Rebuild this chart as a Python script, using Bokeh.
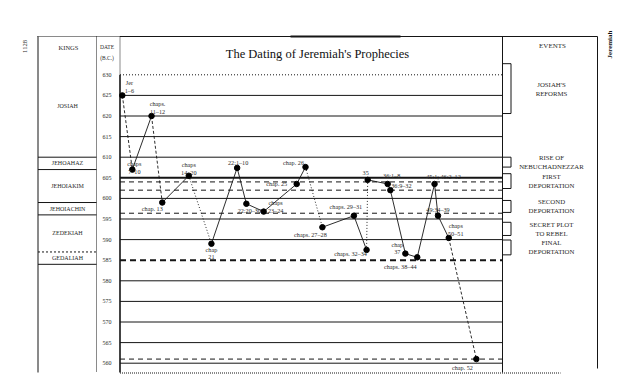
import math
from bokeh.plotting import figure
from bokeh.models import Range1d, ColumnDataSource
from bokeh.core.properties import value
from bokeh.embed import file_html
from bokeh.resources import INLINE

# ---------------- data ----------------
title = "The Dating of Jeremiah's Prophecies"
year_ticks = [630, 625, 620, 615, 610, 605, 600, 595, 590, 585, 580, 575, 570, 565, 560]

prophecy_labels = ["Jer\n1–6", "chaps\n7–10", "chaps.\n11–12", "chap. 13", "chaps\n14–20",
                   "chap\n21", "22:1–10", "22:20–30", "chaps\n23–24", "chap. 25", "chap. 26",
                   "chaps. 27–28", "chaps. 29–31", "chaps. 32–34", "35", "36:1–8", "36:9–32",
                   "chap\n37", "chaps. 38–44", "45:1; 46:2–12", "49:34–39", "chaps\n50–51", "chap. 52"]
# position along the (unlabelled) sequence axis, 0-100 across the chart area
prophecy_pos = [1.0, 3.6, 8.6, 11.4, 18.3, 24.2, 30.9, 33.3, 37.8, 46.4, 48.7, 53.1, 61.3,
                64.6, 64.9, 70.1, 70.8, 74.7, 77.8, 82.3, 83.2, 86.0, 93.2]
prophecy_year = [625, 607, 620, 599, 605.5, 589, 607.4, 598.7, 596.8, 603.5, 607.6, 593, 595.8,
                 587.5, 604.5, 603.5, 602, 586.6, 585.7, 603.5, 595.8, 590.4, 561]

kings = ["JOSIAH", "JEHOAHAZ", "JEHOIAKIM", "JEHOIACHIN", "ZEDEKIAH", "GEDALIAH"]
king_from = [635, 610, 607, 599, 596, 587]
king_to = [610, 607, 599, 596, 587, 584]

events = ["JOSIAH'S\nREFORMS", "RISE OF\nNEBUCHADNEZZAR", "FIRST\nDEPORTATION",
          "SECOND\nDEPORTATION", "SECRET PLOT\nTO REBEL", "FINAL\nDEPORTATION"]
event_from = [632.7, 610, 606, 599.5, 594.2, 589.9]
event_to = [620.6, 607.6, 602.4, 596.6, 591, 586.3]

dashed_marker_years = [604, 602, 596.4, 561]

# ---------------- layout / style ----------------
SERIF = value("Liberation Serif")
INK = "#151515"
TXT = "#2a2a2a"

def X(px):  # page pixel -> sequence units
    return (px - 118) / 3.84

def Y(py):  # page pixel -> year
    return 630 - (py - 74.3) / 4.12

seg_dash = ["3 2", "solid", "3 2", "solid", "1 2", "solid", "solid", "solid", "solid", "solid",
            "1 2", "solid", "solid", "1 2", "solid", "solid", "solid", "solid", "solid",
            "solid", "solid", "3 2"]
label_dx = [7, 2, 6, -10, 0, 0, 1, 3, 12, -20, -12, -12, -8, -16, -2, 4, 11, -8, -17, 9, 0, 7, -14]
label_dy = [-12.5, -6.5, -13, 6, -11.5, 5.5, -5.5, 6.5, -9, 0, -4.5, 7, -9, 4, -7, -8, -5,
            -9.5, 9, -7.5, -6, -12, 8]
LINE_GAP = 8

p = figure(width=623, height=374, x_range=Range1d(X(0), X(623)),
           y_range=Range1d(Y(374), Y(0)), x_axis_type=None, y_axis_type=None,
           output_backend="svg", toolbar_location=None, min_border=0)
p.grid.visible = False
p.outline_line_color = None
p.background_fill_color = "white"
p.border_fill_color = "white"

def seg(x0, y0, x1, y1, w=1.0, dash="solid", color=INK):
    p.segment(x0=[x0], y0=[y0], x1=[x1], y1=[y1], line_color=color, line_width=w, line_dash=dash)

# frame lines
seg(X(37), Y(36), X(119.5), Y(36), 1, "1 1")
seg(X(119.5), Y(36), X(597), Y(36), 1)
seg(X(290), Y(36), X(400), Y(36), 2)
seg(X(37.5), Y(36), X(37.5), Y(372), 1)
seg(X(96), Y(36), X(96), Y(372), 1, "1 1")
seg(X(119.5), Y(36), X(119.5), Y(74.3), 1, "1 1")
seg(X(119.5), Y(74.3), X(119.5), Y(372), 1.6)
seg(X(502), Y(36), X(502), Y(372), 1)
seg(X(597), Y(36), X(597), Y(368), 1)
seg(X(119.5), Y(372.5), X(560), Y(372.5), 1, "1 1")

# year grid lines in chart area
cx0, cx1 = X(119.5), X(502)
for yv in year_ticks:
    if yv == 630:
        seg(cx0, yv, cx1, yv, 1, "1 2")
    elif yv == 605:
        seg(cx0, yv, cx1, yv, 2)
    elif yv == 585:
        seg(cx0, yv, cx1, yv, 2, "6 4")
    else:
        seg(cx0, yv, cx1, yv, 1)
for yv in dashed_marker_years:
    seg(cx0, yv, cx1, yv, 1, "5 4")

# tick labels in the date column
p.text(x=[X(106.5)] * len(year_ticks), y=year_ticks, text=[str(t) for t in year_ticks],
       text_font=SERIF, text_font_size="6px", text_color=TXT,
       text_align="center", text_baseline="middle")
p.text(x=[X(106.5), X(106.5)], y=[Y(46.5), Y(57.5)], text=["DATE", "(B.C.)"],
       text_font=SERIF, text_font_size="5.5px", text_color=TXT,
       text_align="center", text_baseline="middle")

# kings column
for i in range(1, len(kings)):
    dash = "2 2" if kings[i] == "GEDALIAH" else "solid"
    seg(X(37.5), king_from[i], X(96), king_from[i], 1, dash)
seg(X(37.5), king_to[-1], X(96), king_to[-1], 1)
p.text(x=[X(67)] * len(kings), y=[(a + b) / 2 for a, b in zip(king_from, king_to)], text=kings,
       text_font=SERIF, text_font_size="6px", text_color=TXT,
       text_align="center", text_baseline="middle")
p.text(x=[X(68)], y=[Y(47)], text=["KINGS"], text_font=SERIF, text_font_size="6.5px",
       text_color=TXT, text_align="center", text_baseline="middle")

# events column
bx0, bx1 = X(502), X(510.5)
ev_x, ev_y, ev_t, ev_dy = [], [], [], []
for name, a, b in zip(events, event_from, event_to):
    seg(bx0, a, bx1, a, 1)
    seg(bx1, a, bx1, b, 1)
    seg(bx1, b, bx0, b, 1)
    lines = name.split("\n")
    for k, ln in enumerate(lines):
        ev_x.append(X(551))
        ev_y.append((a + b) / 2)
        ev_t.append(ln)
        ev_dy.append((k - (len(lines) - 1) / 2) * 9)
p.text(x="x", y="y", text="t", y_offset="dy",
       source=ColumnDataSource(dict(x=ev_x, y=ev_y, t=ev_t, dy=ev_dy)),
       text_font=SERIF, text_font_size="6.8px", text_color=TXT,
       text_align="center", text_baseline="middle")
p.text(x=[X(552)], y=[Y(45)], text=["EVENTS"], text_font=SERIF, text_font_size="7px",
       text_color=TXT, text_align="center", text_baseline="middle")

# title & running heads
p.text(x=[X(317)], y=[Y(53)], text=[title], text_font=SERIF, text_font_size="12.5px",
       text_color="#111", text_align="center", text_baseline="middle")
p.text(x=[X(24)], y=[Y(46)], text=["1128"], angle=math.pi / 2, text_font=SERIF,
       text_font_size="6.5px", text_color=TXT, text_align="center", text_baseline="middle")
p.text(x=[X(609)], y=[Y(44)], text=["Jeremiah"], angle=math.pi / 2, text_font=SERIF,
       text_font_size="7px", text_font_style="bold", text_color="#111",
       text_align="center", text_baseline="middle")

# connecting line between prophecies
for dash in sorted(set(seg_dash)):
    idx = [i for i, d in enumerate(seg_dash) if d == dash]
    p.segment(x0=[prophecy_pos[i] for i in idx], y0=[prophecy_year[i] for i in idx],
              x1=[prophecy_pos[i + 1] for i in idx], y1=[prophecy_year[i + 1] for i in idx],
              line_color=INK, line_width=0.9, line_dash=dash)

p.scatter(prophecy_pos, prophecy_year, size=5.5, marker="circle", fill_color="#000",
          line_color="#000")

# point labels
lx, ly, lt, ldx, ldy = [], [], [], [], []
for i, lab in enumerate(prophecy_labels):
    for k, ln in enumerate(lab.split("\n")):
        lx.append(prophecy_pos[i])
        ly.append(prophecy_year[i])
        lt.append(ln)
        ldx.append(label_dx[i])
        ldy.append(label_dy[i] + k * LINE_GAP)
p.text(x="x", y="y", text="t", x_offset="dx", y_offset="dy",
       source=ColumnDataSource(dict(x=lx, y=ly, t=lt, dx=ldx, dy=ldy)),
       text_font=SERIF, text_font_size="6.2px", text_color=TXT,
       text_align="center", text_baseline="middle")

open("out.html", "w").write(file_html(p, INLINE))
